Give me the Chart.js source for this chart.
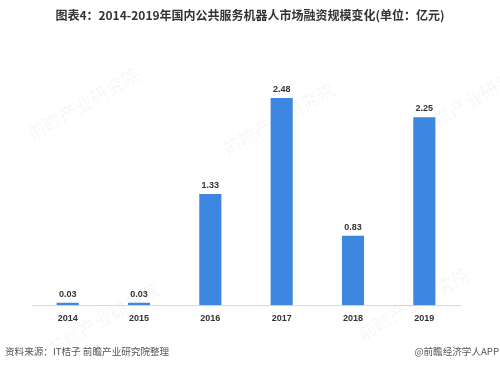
<!DOCTYPE html>
<html>
<head>
<meta charset="utf-8">
<script src="https://cdn.jsdelivr.net/npm/chart.js@4"></script>
<style>
  body { margin: 0; background: #fff; }
  #wrap { position: relative; width: 500px; height: 365px; overflow: hidden; }
  #title { position: absolute; top: 6px; left: 0; width: 500px; text-align: center;
           font: bold 12px "Noto Sans CJK SC", sans-serif; color: #333; }
  .foot { position: absolute; top: 344px; font: 9.6px "Noto Sans CJK SC", sans-serif; color: #555; }
  .mark { position: absolute; font: bold 18px "Noto Sans CJK SC", sans-serif; color: rgba(0,0,0,0.03);
          transform: rotate(-30deg); white-space: nowrap; }
  canvas { position: absolute; left: 0; top: 0; }
</style>
</head>
<body>
<div id="wrap">
  <div class="mark" style="left:20px; top:90px;">前瞻产业研究院</div>
  <div class="mark" style="left:215px; top:105px;">前瞻产业研究院</div>
  <div class="mark" style="left:410px; top:85px;">前瞻产业研究院</div>
  <div class="mark" style="left:40px; top:305px;">前瞻产业研究院</div>
  <div class="mark" style="left:350px; top:290px;">前瞻产业研究院</div>
  <canvas id="chart" width="500" height="365"></canvas>
  <div id="title">图表4：2014-2019年国内公共服务机器人市场融资规模变化(单位：亿元)</div>
  <div class="foot" style="left:5px;">资料来源：IT桔子 前瞻产业研究院整理</div>
  <div class="foot" style="right:1px;">@前瞻经济学人APP</div>
</div>
<script>
// years and financing amounts (亿元)
let YEARS = ["2014", "2015", "2016", "2017", "2018", "2019"];
let AMOUNTS = [0.03, 0.03, 1.33, 2.48, 0.83, 2.25];

//Draw value text above each bar
let valueLabels = {
    id: 'valueLabels',
    afterDatasetsDraw: function (chart) {
        let ctx = chart.ctx;
        let meta = chart.getDatasetMeta(0);
        ctx.save();
        ctx.font = "bold 9px 'Liberation Sans', Arial, sans-serif";
        ctx.fillStyle = "#333";
        ctx.textAlign = "center";
        ctx.textBaseline = "bottom";
        meta.data.forEach(function (bar, i) {
            ctx.fillText(AMOUNTS[i].toFixed(2), bar.x, bar.y - 4);
        });
        ctx.restore();
    }
};

new Chart("chart", {
    type: "bar",
    data: {
        labels: YEARS,
        datasets: [{
            data: AMOUNTS,
            backgroundColor: "#3e87e0",
            barPercentage: 0.62,
            categoryPercentage: 0.5
        }]
    },
    options: {
        responsive: false,
        animation: false,
        layout: { padding: { left: 32, right: 40, top: 98, bottom: 41 } },
        plugins: { legend: { display: false }, tooltip: { enabled: false } },
        scales: {
            x: {
                grid: { display: false },
                border: { display: true, color: "#d9d9d9" },
                ticks: {
                    color: "#333",
                    font: { family: "'Liberation Sans', Arial, sans-serif", size: 9, weight: "bold" },
                    padding: 0
                }
            },
            y: { display: false, min: 0, max: 2.48 }
        }
    },
    plugins: [valueLabels]
});
</script>
</body>
</html>
